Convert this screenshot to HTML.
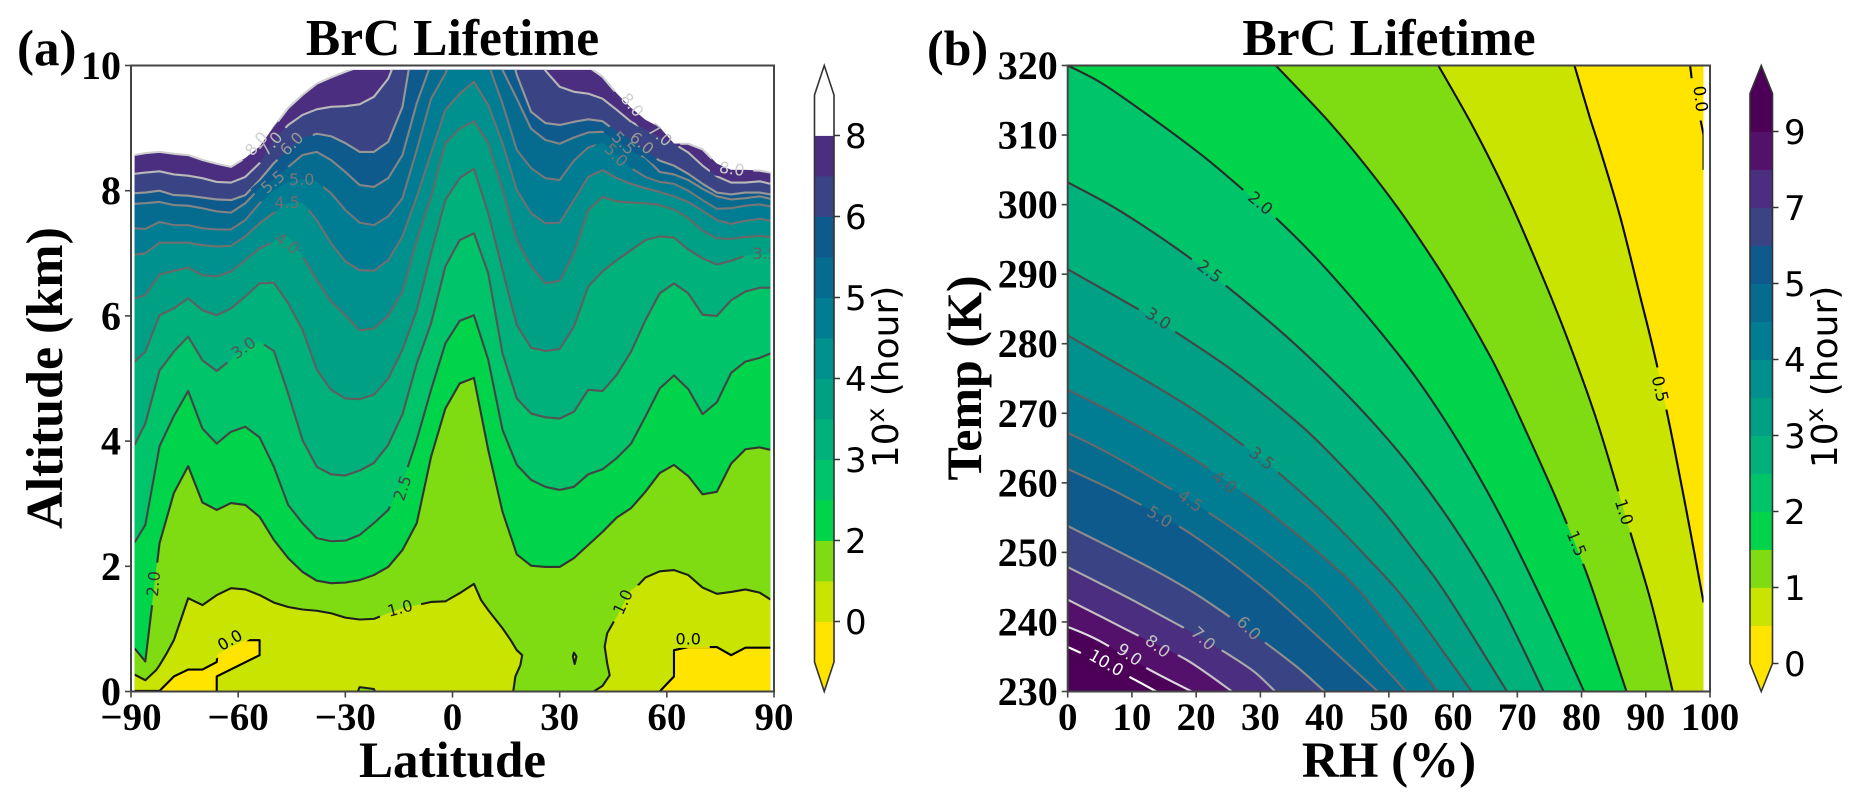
<!DOCTYPE html>
<html lang="en">
<head>
<meta charset="utf-8">
<title>BrC Lifetime</title>
<style>
html,body{margin:0;padding:0;background:#fff;width:1860px;height:807px;overflow:hidden}
svg{display:block}
.serif{font-family:"Liberation Serif",serif;font-weight:bold;fill:#000}
.sans{font-family:"DejaVu Sans",sans-serif;fill:#000}
</style>
</head>
<body>
<svg id="figure" xmlns="http://www.w3.org/2000/svg" width="1860" height="807" viewBox="0 0 1860 807">
  <defs>
    <clipPath id="clipFillA"><rect id="clipRectA" x="0" y="0" width="0" height="0"/></clipPath>
    <clipPath id="clipFillB"><rect id="clipRectB" x="0" y="0" width="0" height="0"/></clipPath>
    <mask id="maskLinesA" maskUnits="userSpaceOnUse" x="0" y="0" width="1860" height="807"><rect x="0" y="0" width="1860" height="807" fill="#fff"/></mask>
    <mask id="maskLinesB" maskUnits="userSpaceOnUse" x="0" y="0" width="1860" height="807"><rect x="0" y="0" width="1860" height="807" fill="#fff"/></mask>
  </defs>
  <text class="serif" x="17" y="65" font-size="51">(a)</text>
  <text class="serif" x="927" y="65" font-size="50">(b)</text>
  <text class="serif" x="452.5" y="55" font-size="51.5" text-anchor="middle">BrC Lifetime</text>
  <text class="serif" x="1389" y="55" font-size="51.5" text-anchor="middle">BrC Lifetime</text>
  <text class="serif" x="452.5" y="777" font-size="51" text-anchor="middle">Latitude</text>
  <text class="serif" x="1389" y="777" font-size="51" text-anchor="middle">RH (%)</text>
  <text class="serif" transform="translate(62 378) rotate(-90)" font-size="52" text-anchor="middle">Altitude (km)</text>
  <text class="serif" transform="translate(981 378) rotate(-90)" font-size="50" text-anchor="middle">Temp (K)</text>
  <text class="sans" transform="translate(898 377) rotate(-90)" font-size="36" text-anchor="middle">10<tspan font-size="25" dy="-14">x</tspan><tspan dy="14"> (hour)</tspan></text>
  <text class="sans" transform="translate(1837 377) rotate(-90)" font-size="36" text-anchor="middle">10<tspan font-size="25" dy="-14">x</tspan><tspan dy="14"> (hour)</tspan></text>
  <g id="panelA"></g>
  <g id="panelB"></g>
  <g id="colorbarA"></g>
  <g id="colorbarB"></g>
</svg>
<script>
/* ---------- Panel (a): latitude grid and contour altitudes (km) ---------- */
const latGrid=[-89,-86,-82,-78,-74,-70,-66,-62,-58,-54,-50,-46,-42,-38,-34,-30,-26,-22,-18,-14,-10,-6,-2,2,6,10,14,18,22,26,30,34,38,42,46,50,54,58,62,66,70,74,78,82,86,89];
const alt80=[8.57,8.60,8.62,8.59,8.57,8.49,8.43,8.38,8.52,8.70,9.02,9.32,9.53,9.71,9.81,9.90,9.98,10.2,10.2,10.2,10.2,10.2,10.2,10.2,10.2,10.2,10.2,10.2,10.2,10.2,10.2,10.2,9.98,9.82,9.55,9.32,9.13,9.01,8.75,8.75,8.66,8.43,8.33,8.33,8.32,8.29];
const alt70=[8.27,8.29,8.31,8.26,8.24,8.20,8.14,8.13,8.22,8.44,8.81,9.05,9.21,9.30,9.34,9.35,9.38,9.50,9.79,10.35,10.35,10.35,10.35,10.35,10.35,10.35,10.35,10.35,10.35,9.92,9.66,9.58,9.55,9.47,9.29,9.10,8.98,8.85,8.75,8.61,8.40,8.23,8.13,8.13,8.15,8.11];
const alt60=[7.96,7.97,8.00,7.93,7.92,7.89,7.86,7.85,7.93,8.17,8.44,8.65,8.84,8.91,8.87,8.76,8.62,8.62,8.78,9.34,10.7,10.7,10.7,10.7,10.7,10.7,10.7,9.85,9.26,9.08,9.05,9.10,9.14,9.11,8.94,8.81,8.62,8.48,8.40,8.27,8.11,7.97,7.94,7.97,7.97,7.94];
const alt55=[7.79,7.80,7.82,7.77,7.76,7.72,7.67,7.65,7.80,8.04,8.17,8.38,8.57,8.62,8.49,8.30,8.09,8.06,8.20,8.57,9.40,10.03,10.6,10.6,10.6,10.5,9.93,9.47,8.99,8.81,8.75,8.85,8.93,8.94,8.80,8.62,8.53,8.30,8.26,8.17,8.03,7.91,7.86,7.88,7.91,7.87];
const alt50=[7.40,7.39,7.50,7.45,7.45,7.40,7.38,7.38,7.53,7.80,8.01,8.14,8.18,8.14,7.96,7.69,7.49,7.45,7.59,7.88,8.65,9.47,9.87,10.5,10.6,10.03,9.39,8.65,8.36,8.20,8.17,8.48,8.69,8.76,8.57,8.36,8.22,8.14,8.11,8.00,7.85,7.71,7.72,7.76,7.78,7.75];
const alt45=[6.98,7.00,7.17,7.17,7.17,7.13,7.11,7.12,7.27,7.48,7.65,7.80,7.81,7.53,7.16,6.87,6.73,6.72,6.89,7.27,7.90,8.60,9.29,9.55,9.74,9.37,8.76,8.01,7.64,7.48,7.49,7.85,8.22,8.33,8.20,8.11,8.04,7.98,7.91,7.82,7.68,7.53,7.47,7.52,7.55,7.52];
const alt40=[6.28,6.33,6.66,6.72,6.77,6.65,6.63,6.71,6.89,7.08,7.19,7.27,6.95,6.57,6.23,6.01,5.77,5.80,6.00,6.39,7.21,7.90,8.76,8.99,9.11,8.76,8.01,7.21,6.79,6.52,6.56,7.00,7.69,7.90,7.83,7.81,7.80,7.77,7.70,7.56,7.36,7.24,7.23,7.26,7.28,7.26];
const alt35=[5.27,5.43,6.01,6.12,6.28,6.09,6.01,6.12,6.31,6.52,6.53,6.20,5.78,5.14,4.82,4.68,4.67,4.74,5.00,5.46,6.09,7.00,7.85,8.20,8.35,7.64,6.73,5.85,5.49,5.44,5.47,5.83,6.47,6.71,6.89,7.05,7.21,7.27,7.25,7.06,6.92,6.82,6.88,6.96,6.98,6.98];
const alt30=[3.94,4.28,5.13,5.43,5.67,5.29,5.12,5.30,5.48,5.59,5.44,4.76,4.02,3.59,3.47,3.45,3.53,3.65,3.94,4.43,5.24,5.88,6.79,7.21,7.32,6.68,5.40,4.68,4.44,4.38,4.36,4.47,4.82,4.80,5.06,5.43,5.93,6.36,6.52,6.36,6.02,6.00,6.25,6.39,6.45,6.45];
const alt25=[2.38,2.66,3.92,4.40,4.80,4.20,3.96,4.15,4.23,4.06,3.59,2.98,2.69,2.45,2.40,2.41,2.50,2.69,2.90,3.33,4.02,4.82,5.56,5.92,6.01,5.30,4.18,3.62,3.38,3.27,3.22,3.27,3.47,3.55,3.73,3.96,4.39,4.84,5.05,4.83,4.43,4.62,5.09,5.27,5.33,5.40];
const alt20=[0.69,0.48,2.37,3.17,3.60,3.02,2.90,3.01,2.98,2.79,2.42,2.13,1.91,1.77,1.73,1.74,1.78,1.86,1.99,2.26,2.69,3.75,4.52,4.92,5.01,3.86,2.87,2.19,2.01,1.99,1.99,2.13,2.34,2.55,2.78,2.93,3.19,3.49,3.62,3.44,3.15,3.19,3.64,3.87,3.90,3.86];
/* 1.0 contour: two branches plus two small islands */
const lat10West=[-89,-86,-83,-82,-80,-78,-74,-70,-66,-62,-58,-54,-50,-46,-42,-38,-34,-30,-26,-22,-18,-14,-10,-6,-2,2,6,8,10,14,16.3,18,19.5,19,17.6,17];
const alt10West=[0.27,0.18,0.34,0.42,0.61,0.82,1.49,1.38,1.54,1.65,1.63,1.54,1.42,1.35,1.31,1.29,1.25,1.18,1.15,1.16,1.25,1.33,1.38,1.43,1.44,1.57,1.72,1.46,1.30,1.01,0.82,0.66,0.58,0.42,0.24,0];
const lat10East=[39.5,42,44,43.3,42.6,43.3,46,50,52,54,58,62,66,70,74,78,82,86,89];
const alt10East=[0,0.09,0.26,0.45,0.72,0.93,1.20,1.62,1.70,1.82,1.92,1.94,1.86,1.66,1.56,1.59,1.63,1.58,1.47];
const lat10IslandA=[-26.5,-26,-22,-21.7];
const alt10IslandA=[0,0.07,0.04,0];
const lat10IslandB=[34,34.7,34.2,33.7];
const alt10IslandB=[0.62,0.56,0.44,0.56];
/* 0.0 contour: two yellow regions */
const lat00West=[-89,-82,-78,-74,-70,-66,-65.8,-62,-58,-54,-54,-66,-66];
const alt00West=[0.01,0.01,0.24,0.35,0.35,0.47,0.60,0.71,0.82,0.82,0.58,0.24,0];
const lat00East=[58,62,62,66,70,74,78,82,86,89];
const alt00East=[0,0.24,0.66,0.71,0.71,0.71,0.58,0.70,0.70,0.70];
/* Printed contour labels, panel (a) */
const labelTextA=["8.0","7.0","6.0","5.5","5.0","4.5","4.0","8.0","7.0","6.0","5.5","5.0","8.0","3.5","3.0","2.5","2.0","1.0","1.0","0.0","0.0"];
const labelLatA=[-54.9,-50.8,-45,-50.3,-42.2,-46.3,-46.3,50.3,58.1,53,47.9,45.8,78.2,87.5,-58.5,-14,-83.7,-14.7,47.7,-62.3,66];
const labelAltA=[8.75,8.75,8.75,8.14,8.18,7.81,7.16,9.37,8.89,8.76,8.76,8.57,8.35,7.0,5.49,3.25,1.72,1.33,1.43,0.82,0.84];
const labelTiltA=[-50,-50,-45,-40,0,0,35,50,40,40,45,45,8,0,-35,-72,-85,-15,-65,-30,0];
const labelShadeA=["#d0d0d0","#b8b8b8","#979797","#858585","#777","#707070","#686868","#d0d0d0","#b8b8b8","#979797","#858585","#777","#d0d0d0","#606060","#555","#444","#333","#1c1c1c","#1c1c1c","#000","#000"];
/* Panel (a) axes */
const latTicks=[-90,-60,-30,0,30,60,90];
const latTickText=["\u221290","\u221260","\u221230","0","30","60","90"];
const altTicks=[0,2,4,6,8,10];
/* ---------- Panel (b): contour curves (RH %, Temp K) ---------- */
const rh100=[0,2.6,9.6,13.8];
const temp100=[236.4,235.3,232.1,230];
const rh90=[0,4.7,12.4,19.3];
const temp90=[239.3,237.4,233.3,230];
const rh80=[0,4.7,11.7,18.6,25.6];
const temp80=[243.2,241,237.7,234.5,230];
const rh70=[0,4.7,11,16.6,19.7,24.9,29.1,32.3];
const temp70=[247.9,245.7,242.7,239.9,238.3,235.4,232.8,230];
const rh60=[0,6.5,14,19.8,25.9,30.5,36,40];
const temp60=[253.8,250.8,247.2,244.1,240.3,237.2,233.3,230];
const rh50=[0,6.5,11.7,16.9,22.1,28.4,34.2,48.3];
const temp50=[262,259.2,256.7,254,250.8,246.4,241.9,230];
const rh45=[0,6.5,16.3,21.5,28.4,34.8,40,52.7];
const temp45=[267.2,264.2,259,256,251.6,247,242.8,230];
const rh40=[0,8.3,15.8,21.8,26.7,31.9,40,46.9,57.6];
const temp40=[273.4,269.5,265.6,262.1,259,255.4,249.2,242.9,230];
const rh35=[0,11.1,19.8,27.6,32.5,40,47.5,53.2,62.9];
const temp35=[281.2,275.3,270.4,265.2,261.7,255.5,248.4,242.4,230];
const rh30=[0,11.1,16.6,25.6,34.2,40,48.6,54.4,59,68.4];
const temp30=[290.7,284.9,281.8,276.2,269.9,265,256.5,249.7,243.9,230];
const rh25=[0,8.3,19.8,32,40,48,54.4,61.2,67.3,74.1];
const temp25=[303.2,299,291.8,282.7,275.9,268.2,261.1,252.2,242.8,230];
const rh20=[0,5.4,12.9,20.9,27.6,32.5,39.4,47.6,54.4,61.1,67.8,74.6,80.4];
const temp20=[320,317.4,312.6,307.1,301.9,298,291.6,282.9,274.9,265.5,254.5,241.7,230];
const rh15=[32.4,40,45.7,51.5,57.3,61.1,64.7,67.8,74.6,77.9,81.3,87];
const temp15=[320,312.6,306.4,299.4,291.5,285.8,280,274.5,260.8,253.7,245.7,230];
const rh10=[57.7,63.1,68.3,73.5,77.9,82.5,87.4,90.9,94.2];
const temp10=[320,311.2,301.6,290.6,280.5,268.6,253.5,242.6,230];
const rh05=[78.9,81.3,82.9,86,89.1,90.7,92.2,94.5,96.8,99];
const temp05=[320,312.5,307.9,298.3,286.9,281,275,264.7,253.7,242.8];
const rh00=[96.9,97.5,98.5,99,99];
const temp00=[320,315.5,312.3,310,305];
/* Printed contour labels, panel (b) */
const labelTextB=["2.0","2.5","3.0","3.5","4.0","4.5","5.0","6.0","7.0","8.0","9.0","10.0","1.5","1.0","0.5","0.0"];
const labelRhB=[30,22.1,14.1,30.2,24.4,19.1,14.3,28.2,21.1,14,9.6,6,79.2,86.6,92.2,98.5];
const labelTempB=[300.2,290.4,283.6,263.5,260.1,257.4,255.1,239.1,237.6,236.5,235.3,234.1,251.3,255.8,273.5,315.2];
const labelTiltB=[40,37,33,38,37,35,32,45,43,37,35,30,68,72,77,83];
const labelShadeB=["#2a2a2a","#383838","#454545","#525252","#5d5d5d","#6a6a6a","#737373","#8e8e8e","#aaa","#c4c4c4","#ddd","#fff","#1f1f1f","#111","#080808","#000"];
/* Panel (b) axes */
const rhTicks=[0,10,20,30,40,50,60,70,80,90,100];
const tempTicks=[230,240,250,260,270,280,290,300,310,320];
/* ---------- Colorbars ---------- */
const barLevelsA=[-1,0,1,2,2.5,3,3.5,4,4.5,5,5.5,6,7,8,9];
const barColorsA=["#ffe400","#c8e400","#80dc12","#00d44a","#00c46a","#00b17c","#00a085","#00908e","#007c93","#056b8f","#0f5a8c","#3a4485","#4c2e80","#ffffff"];
const barTicksA=[0,2,3,4,5,6,8];
const barLevelsB=[0,0.5,1,1.5,2,2.5,3,3.5,4,4.5,5,6,7,8,9,10];
const barColorsB=["#ffe400","#c8e400","#80dc12","#00d44a","#00c46a","#00b17c","#00a085","#00908e","#007c93","#056b8f","#0f5a8c","#3a4485","#4c2e80","#54116b","#4d0058"];
const barTicksB=[0,1,2,3,4,5,7,9];

/* ---------- Axis functions ---------- */
const axA={left:131,right:774,top:65.5,bottom:691.5};
const axB={left:1067.7,right:1710,top:65.5,bottom:691.5};
const xA=function(lat){return axA.left+(lat+90)*(axA.right-axA.left)/180;};
const yA=function(alt){return axA.bottom-alt*(axA.bottom-axA.top)/10;};
const xB=function(rh){return axB.left+rh*(axB.right-axB.left)/100;};
const yB=function(t){return axB.bottom-(t-230)*(axB.bottom-axB.top)/90;};
const NS="http://www.w3.org/2000/svg";
function make(tag,attrs,parent){
  const n=document.createElementNS(NS,tag);
  for(const k in attrs){n.setAttribute(k,attrs[k]);}
  parent.appendChild(n);
  return n;
}
function straight(xs,ys,fx,fy){
  return xs.map(function(v,i){return (i?"L":"M")+fx(v).toFixed(2)+" "+fy(ys[i]).toFixed(2);}).join("");
}
function smooth(xs,ys,fx,fy){
  const p=xs.map(function(v,i){return [fx(v),fy(ys[i])];});
  let d="M"+p[0][0].toFixed(2)+" "+p[0][1].toFixed(2);
  for(let i=0;i<p.length-1;i++){
    const a=p[Math.max(i-1,0)],b=p[i],c=p[i+1],e=p[Math.min(i+2,p.length-1)];
    d+="C"+(b[0]+(c[0]-a[0])/6).toFixed(2)+" "+(b[1]+(c[1]-a[1])/6).toFixed(2)+" "+(c[0]-(e[0]-b[0])/6).toFixed(2)+" "+(c[1]-(e[1]-b[1])/6).toFixed(2)+" "+c[0].toFixed(2)+" "+c[1].toFixed(2);
  }
  return d;
}
function drawLabels(parent,maskId,texts,xs,ys,tilts,shades,fx,fy,clipId,fontPx){
  const group=make("g",clipId?{"clip-path":"url(#"+clipId+")"}:{},parent);
  
  
  const maskEl=document.getElementById(maskId);
  texts.forEach(function(t,i){
    const x=fx(xs[i]),y=fy(ys[i]);
    const half=t.length*5.5+5;
    make("rect",{x:x-half,y:y-9,width:half*2,height:18,fill:"#000",transform:"rotate("+tilts[i]+" "+x+" "+y+")"},maskEl);
    const label=make("text",{x:x,y:y,"font-size":fontPx,"text-anchor":"middle","dominant-baseline":"central",fill:shades[i],"font-family":'"DejaVu Sans",sans-serif',transform:"rotate("+tilts[i]+" "+x+" "+y+")"},group);
    
    
    label.textContent=t;
  });
}
function drawFrame(parent,ax,xTicks,xText,yTicks,fx,fy,yFont){
  const tickGroup=make("g",{stroke:"#444","stroke-width":1.6},parent);
  
  
  xTicks.forEach(function(v){make("line",{x1:fx(v),x2:fx(v),y1:ax.bottom,y2:ax.bottom+6},tickGroup);});
  yTicks.forEach(function(v){make("line",{x1:ax.left-6,x2:ax.left,y1:fy(v),y2:fy(v)},tickGroup);});
  xTicks.forEach(function(v,i){
    const t=make("text",{x:fx(v),y:730,"font-size":39,"text-anchor":"middle","class":"serif"},parent);
    
    
    t.textContent=xText[i];
  });
  yTicks.forEach(function(v){
    const t=make("text",{x:ax.left-10,y:fy(v)+13.5,"font-size":yFont,"text-anchor":"end","class":"serif"},parent);
    
    
    t.textContent=String(v);
  });
  const frame=make("rect",{x:ax.left,y:ax.top,width:ax.right-ax.left,height:ax.bottom-ax.top,fill:"none",stroke:"#444","stroke-width":2},parent);
  
  
}

/* ---------- Panel (a) ---------- */
(function(){
  const parent=document.getElementById("panelA");
  const rect=document.getElementById("clipRectA");
  rect.setAttribute("x",xA(-89));
  rect.setAttribute("y",yA(9.93));
  rect.setAttribute("width",xA(89)-xA(-89));
  rect.setAttribute("height",yA(0)-yA(9.93));
  const series=[alt80,alt70,alt60,alt55,alt50,alt45,alt40,alt35,alt30,alt25,alt20];
  const fills=["#4c2e80","#3a4485","#0f5a8c","#056b8f","#007c93","#00908e","#00a085","#00b17c","#00c46a","#00d44a","#80dc12"];
  const shades=["#d0d0d0","#b8b8b8","#979797","#858585","#777","#707070","#686868","#606060","#555","#444","#333"];
  const fillGroup=make("g",{"clip-path":"url(#clipFillA)"},parent);
  
  
  series.forEach(function(alts,i){
    const lats=[-89].concat(latGrid,[89]);
    const vals=[0].concat(alts,[0]);
    const band=make("path",{d:straight(lats,vals,xA,yA)+"Z",fill:fills[i],stroke:fills[i],"stroke-width":0.4},fillGroup);
    
    
  });
  const patches=[
    [lat10West.concat([-89]),alt10West.concat([0]),"#c8e400"],
    [lat10East.concat([89]),alt10East.concat([0]),"#c8e400"],
    [lat10IslandA,alt10IslandA,"#80dc12"],
    [lat10IslandB,alt10IslandB,"#c8e400"],
    [lat00West,alt00West,"#ffe400"],
    [lat00East.concat([89]),alt00East.concat([0]),"#ffe400"]
  ];
  patches.forEach(function(p){
    const patch=make("path",{d:straight(p[0],p[1],xA,yA)+"Z",fill:p[2]},fillGroup);
    
    
  });
  const clipLines=make("g",{"clip-path":"url(#clipFillA)"},parent);
  
  
  const lineGroup=make("g",{mask:"url(#maskLinesA)",fill:"none","stroke-width":2.1,"stroke-linejoin":"round"},clipLines);
  
  
  series.forEach(function(alts,i){
    const line=make("path",{d:straight(latGrid,alts,xA,yA),stroke:shades[i]},lineGroup);
    
    
  });
  const extra=[
    [lat10West,alt10West,"#1c1c1c",false],
    [lat10East,alt10East,"#1c1c1c",false],
    [lat10IslandA,alt10IslandA,"#1c1c1c",false],
    [lat10IslandB,alt10IslandB,"#1c1c1c",true],
    [lat00West,alt00West,"#000",false],
    [lat00East,alt00East,"#000",false]
  ];
  extra.forEach(function(p){
    const line=make("path",{d:straight(p[0],p[1],xA,yA)+(p[3]?"Z":""),stroke:p[2]},lineGroup);
    
    
  });
  drawLabels(parent,"maskLinesA",labelTextA,labelLatA,labelAltA,labelTiltA,labelShadeA,xA,yA,"clipFillA",16);
  drawFrame(parent,axA,latTicks,latTickText,altTicks,xA,yA,40);
})();

/* ---------- Panel (b) ---------- */
(function(){
  const parent=document.getElementById("panelB");
  const rect=document.getElementById("clipRectB");
  rect.setAttribute("x",xB(0));
  rect.setAttribute("y",yB(320));
  rect.setAttribute("width",xB(99)-xB(0));
  rect.setAttribute("height",yB(230)-yB(320));
  const curves=[
    [rh05,temp05,"#c8e400","#080808"],
    [rh10,temp10,"#80dc12","#111"],
    [rh15,temp15,"#00d44a","#1f1f1f"],
    [rh20,temp20,"#00c46a","#2a2a2a"],
    [rh25,temp25,"#00b17c","#383838"],
    [rh30,temp30,"#00a085","#454545"],
    [rh35,temp35,"#00908e","#525252"],
    [rh40,temp40,"#007c93","#5d5d5d"],
    [rh45,temp45,"#056b8f","#6a6a6a"],
    [rh50,temp50,"#0f5a8c","#737373"],
    [rh60,temp60,"#3a4485","#8e8e8e"],
    [rh70,temp70,"#4c2e80","#aaa"],
    [rh80,temp80,"#54116b","#c4c4c4"],
    [rh90,temp90,"#4d0058","#ddd"],
    [rh100,temp100,"#4d0058","#fff"]
  ];
  const fillGroup=make("g",{"clip-path":"url(#clipFillB)"},parent);
  
  
  const base=make("rect",{x:xB(0),y:yB(320),width:xB(99)-xB(0),height:yB(230)-yB(320),fill:"#ffe400"},fillGroup);
  
  
  curves.forEach(function(c){
    const lastRh=c[0][c[0].length-1];
    const corner="L"+xB(lastRh).toFixed(2)+" "+yB(230).toFixed(2)+"L"+xB(0).toFixed(2)+" "+yB(230).toFixed(2)+"L"+xB(0).toFixed(2)+" "+yB(c[0][0]===0?c[1][0]:320).toFixed(2)+"Z";
    const band=make("path",{d:smooth(c[0],c[1],xB,yB)+corner,fill:c[2]},fillGroup);
    
    
  });
  const clipLines=make("g",{"clip-path":"url(#clipFillB)"},parent);
  
  
  const lineGroup=make("g",{mask:"url(#maskLinesB)",fill:"none","stroke-width":2.1},clipLines);
  
  
  curves.forEach(function(c){
    const line=make("path",{d:smooth(c[0],c[1],xB,yB),stroke:c[3]},lineGroup);
    
    
  });
  const zero=make("path",{d:straight(rh00,temp00,xB,yB),stroke:"#000"},lineGroup);
  
  
  drawLabels(parent,"maskLinesB",labelTextB,labelRhB,labelTempB,labelTiltB,labelShadeB,xB,yB,null,16.5);
  drawFrame(parent,axB,rhTicks,rhTicks.map(String),tempTicks,xB,yB,40);
})();

/* ---------- Colorbars ---------- */
function drawColorbar(parentId,levels,colors,ticks,left,right,labelX){
  const parent=document.getElementById(parentId);
  const top=65.5,bottom=691.5,tip=(levels.length===15)?29.5:28;
  const bandH=(bottom-top-2*tip)/(levels.length-1);
  const yLevel=function(v){return bottom-tip-levels.indexOf(v)*bandH;};
  const mid=(left+right)/2;
  colors.forEach(function(color,i){
    const y=yLevel(levels[i+1]);
    const band=make("rect",{x:left,y:y,width:right-left,height:bandH+0.4,fill:color},parent);
    
    
  });
  const tipTop=make("path",{d:"M"+left+" "+(top+tip)+"L"+mid+" "+top+"L"+right+" "+(top+tip)+"Z",fill:colors[colors.length-1]},parent);
  
  
  const tipBottom=make("path",{d:"M"+left+" "+(bottom-tip)+"L"+mid+" "+bottom+"L"+right+" "+(bottom-tip)+"Z",fill:colors[0]},parent);
  
  
  const outline=make("path",{d:"M"+mid+" "+top+"L"+right+" "+(top+tip)+"L"+right+" "+(bottom-tip)+"L"+mid+" "+bottom+"L"+left+" "+(bottom-tip)+"L"+left+" "+(top+tip)+"Z",fill:"none",stroke:"#333","stroke-width":1.6},parent);
  
  
  ticks.forEach(function(v){
    const y=yLevel(v);
    const mark=make("line",{x1:right,x2:right+6,y1:y,y2:y,stroke:"#333","stroke-width":1.5},parent);
    
    
    const t=make("text",{x:labelX,y:y+12.5,"font-size":34,"class":"sans"},parent);
    
    
    t.textContent=String(v);
  });
}
drawColorbar("colorbarA",barLevelsA,barColorsA,barTicksA,814.5,834,845);
drawColorbar("colorbarB",barLevelsB,barColorsB,barTicksB,1750,1772.5,1784);
</script>
</body>
</html>
